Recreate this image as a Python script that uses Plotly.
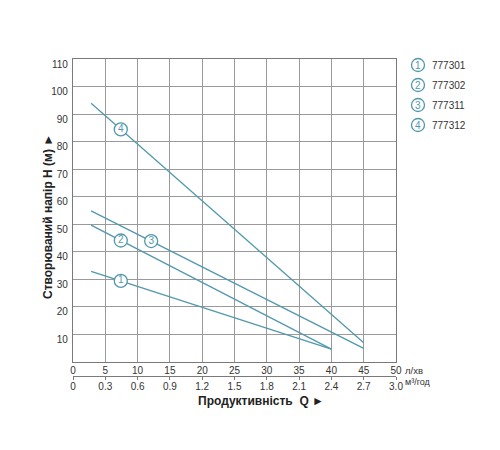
import plotly.graph_objects as go

# ---- data ----
models = ["777301", "777302", "777311", "777312"]
labels = ["1", "2", "3", "4"]
q_start = [2.8, 2.8, 2.8, 2.8]
q_end = [40, 40, 45, 45]
h_start = [32.8, 49.6, 54.8, 93.9]
h_end = [4.5, 4.5, 4.8, 6.8]
label_q = [7.4, 7.4, 12.1, 7.4]
label_h = [29.3, 44.0, 43.8, 84.4]

x_ticks = [0, 5, 10, 15, 20, 25, 30, 35, 40, 45, 50]
x2_ticks = [0, 0.3, 0.6, 0.9, 1.2, 1.5, 1.8, 2.1, 2.4, 2.7, 3.0]
x2_text = ["0", "0.3", "0.6", "0.9", "1.2", "1.5", "1.8", "2.1", "2.4", "2.7", "3.0"]
y_ticks = [10, 20, 30, 40, 50, 60, 70, 80, 90, 100, 110]

TEAL = "#5298ad"
GRID = "#9a9a9a"
TXT = "#333333"
FONT = "Liberation Sans, Arial, sans-serif"

W, H = 500, 450
ML, MR, MT, MB = 73, 104, 59, 40
PH = H - MT - MB
main_bottom = (H - MB - 361.5) / PH
axis2_pos = (H - MB - 376) / PH

fig = go.Figure()

for i in range(4):
    fig.add_trace(go.Scatter(
        x=[q_start[i], q_end[i]], y=[h_start[i], h_end[i]],
        mode="lines", line=dict(color=TEAL, width=1.3),
        showlegend=False, hoverinfo="skip"))

fig.add_trace(go.Scatter(
    x=label_q, y=label_h, mode="markers+text", text=labels,
    textposition="middle center",
    textfont=dict(color=TEAL, size=10, family=FONT),
    marker=dict(size=13, color="white", line=dict(color=TEAL, width=1.3)),
    showlegend=False, hoverinfo="skip"))

# invisible trace to attach second axis
fig.add_trace(go.Scatter(x=[0, 3], y=[0, 1], xaxis="x2", yaxis="y2",
                         mode="lines", line=dict(width=0), opacity=0,
                         showlegend=False, hoverinfo="skip"))

fig.update_layout(
    width=W, height=H,
    margin=dict(l=ML, r=MR, t=MT, b=MB),
    paper_bgcolor="white", plot_bgcolor="white",
    font=dict(family=FONT, size=10, color=TXT),
    xaxis=dict(range=[0, 50], tickvals=x_ticks, showgrid=True, gridcolor=GRID,
               gridwidth=1, showline=True, linecolor="#7a7a7a", linewidth=1.2,
               mirror=True, ticks="", zeroline=False, anchor="y",
               ticklabelstandoff=-1,
               tickfont=dict(size=10, color=TXT)),
    yaxis=dict(range=[0, 110], tickvals=y_ticks, showgrid=True, gridcolor=GRID,
               gridwidth=1, showline=True, linecolor="#7a7a7a", linewidth=1.2,
               mirror=True, ticks="", zeroline=False, domain=[main_bottom, 1],
               ticklabelshift=5, ticklabelstandoff=2,
               tickfont=dict(size=10, color=TXT)),
    xaxis2=dict(range=[0, 3], tickvals=x2_ticks, ticktext=x2_text,
                anchor="y2", side="bottom", showgrid=False, zeroline=False,
                showline=True, linecolor="#7a7a7a", linewidth=1,
                ticks="outside", ticklen=3, tickcolor="#7a7a7a",
                ticklabelstandoff=-2,
                tickfont=dict(size=10, color=TXT)),
    yaxis2=dict(domain=[axis2_pos, axis2_pos + 0.001], visible=False,
                range=[0, 1]),
)

def px_x(p):
    return (p - ML) / (W - ML - MR)

def px_y(p):
    return (H - MB - p) / PH

ann = []
ann.append(dict(text="<b>Продуктивність  Q ►</b>", x=px_x(261), y=px_y(401),
                xref="paper", yref="paper", showarrow=False,
                font=dict(size=12, color="#222222", family=FONT),
                xanchor="center", yanchor="middle"))
ann.append(dict(text="<b>Створюваний напір H (м) ►</b>", x=px_x(48), y=px_y(217),
                xref="paper", yref="paper", showarrow=False, textangle=-90,
                font=dict(size=12, color="#222222", family=FONT),
                xanchor="center", yanchor="middle"))
ann.append(dict(text="л/хв", x=px_x(403), y=px_y(370), xref="paper", yref="paper",
                showarrow=False, xanchor="left", yanchor="middle",
                font=dict(size=9.5, color=TXT)))
ann.append(dict(text="м³/год", x=px_x(403), y=px_y(382), xref="paper", yref="paper",
                showarrow=False, xanchor="left", yanchor="middle",
                font=dict(size=9, color=TXT)))

shapes = []
leg_y = [65, 85, 105, 125]
for i in range(4):
    shapes.append(dict(type="circle", xref="paper", yref="paper",
                       xsizemode="pixel", ysizemode="pixel",
                       xanchor=px_x(418), yanchor=px_y(leg_y[i]),
                       x0=-6.5, x1=6.5, y0=-6.5, y1=6.5,
                       line=dict(color=TEAL, width=1.3), fillcolor="white"))
    ann.append(dict(text=labels[i], x=px_x(418), y=px_y(leg_y[i]),
                    xref="paper", yref="paper", showarrow=False,
                    xanchor="center", yanchor="middle",
                    font=dict(size=10, color=TEAL)))
    ann.append(dict(text=models[i], x=px_x(430), y=px_y(leg_y[i]),
                    xref="paper", yref="paper", showarrow=False,
                    xanchor="left", yanchor="middle",
                    font=dict(size=10, color=TXT)))

fig.update_layout(annotations=ann, shapes=shapes)
fig.write_html("out.html")
